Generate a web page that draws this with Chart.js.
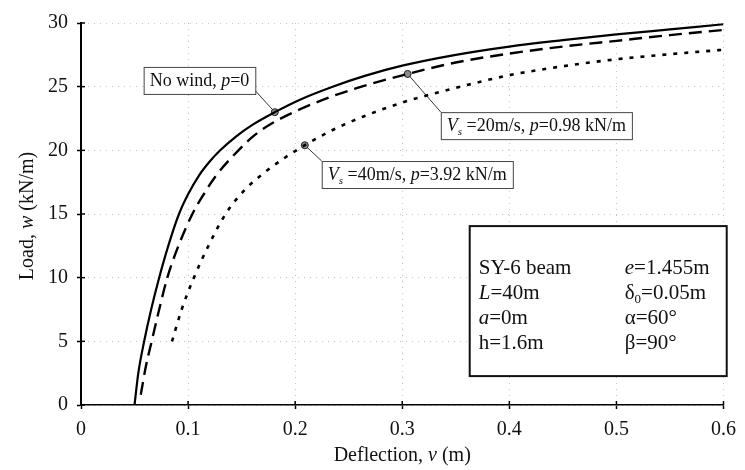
<!DOCTYPE html>
<html>
<head>
<meta charset="utf-8">
<script src="https://cdn.jsdelivr.net/npm/chart.js@4.4.1/dist/chart.umd.min.js"></script>
<style>
  html, body { margin: 0; padding: 0; background: #fff; }
  #wrap { width: 745px; height: 470px; }
</style>
</head>
<body>
<div id="wrap"><canvas id="chart" width="745" height="470"></canvas></div>
<script>
// Load-deflection curves, values (v in m, w in kN/m)
const noWindV = [0.050, 0.0535, 0.059, 0.0655, 0.073, 0.0815, 0.0915, 0.100, 0.110, 0.120, 0.130, 0.145, 0.160, 0.181, 0.205, 0.235, 0.265, 0.30, 0.35, 0.40, 0.45, 0.50, 0.55, 0.60];
const noWindW = [0, 2.5, 5, 7.5, 10, 12.5, 15, 16.55, 18.0, 19.1, 20.0, 21.1, 22.0, 23.0, 24.0, 25.0, 25.85, 26.65, 27.5, 28.15, 28.65, 29.1, 29.5, 29.9];

const vs20V = [0.0558, 0.0605, 0.066, 0.073, 0.0806, 0.091, 0.104, 0.115, 0.126, 0.147, 0.163, 0.180, 0.200, 0.230, 0.262, 0.305, 0.35, 0.40, 0.45, 0.50, 0.55, 0.60];
const vs20W = [0.8, 3, 5, 7.5, 10, 12.5, 15, 16.6, 18, 20, 21.25, 22.2, 23.05, 24.1, 25.0, 26.0, 26.9, 27.6, 28.15, 28.6, 29.05, 29.45];

const vs40V = [0.085, 0.094, 0.1054, 0.119, 0.135, 0.153, 0.172, 0.190, 0.209, 0.235, 0.265, 0.30, 0.35, 0.40, 0.45, 0.50, 0.55, 0.60];
const vs40W = [5, 7.5, 10, 12.5, 15, 16.9, 18.3, 19.4, 20.4, 21.6, 22.7, 23.75, 24.9, 25.9, 26.6, 27.15, 27.55, 27.9];

// Points marked on the curves, one per callout
const markerV = [0.181, 0.305, 0.209];
const markerW = [23.0, 26.0, 20.4];

const xTickLabels = ['0', '0.1', '0.2', '0.3', '0.4', '0.5', '0.6'];
const yTickLabels = ['0', '5', '10', '15', '20', '25', '30'];

// Rich text pieces: [text, italic, subscript]
const xTitle = [['Deflection, ', 0], ['v', 1], [' (m)', 0]];
const yTitle = [['Load, ', 0], ['w', 1], [' (kN/m)', 0]];
const noWindLabel = [['No wind, ', 0], ['p', 1], ['=0', 0]];
const vs20Label = [['V', 1], ['s', 1, 1], [' =20m/s, ', 0], ['p', 1], ['=0.98 kN/m', 0]];
const vs40Label = [['V', 1], ['s', 1, 1], [' =40m/s, ', 0], ['p', 1], ['=3.92 kN/m', 0]];
const infoLeft = [
    [['SY-6 beam', 0]],
    [['L', 1], ['=40m', 0]],
    [['a', 1], ['=0m', 0]],
    [['h=1.6m', 0]]
];
const infoRight = [
    [['e', 1], ['=1.455m', 0]],
    [['\u03b4', 0], ['0', 0, 1], ['=0.05m', 0]],
    [['\u03b1=60\u00b0', 0]],
    [['\u03b2=90\u00b0', 0]]
];

const SERIF = '"Liberation Serif", "Times New Roman", serif';

// callout boxes: top-left anchor in data units, leader start as fraction of box
const callouts = [
    { text: noWindLabel, at: [0.0585, 26.55], from: [1, 0.88], marker: 0 },
    { text: vs20Label, at: [0.336, 23.0], from: [0, 0], marker: 1 },
    { text: vs40Label, at: [0.2248, 19.16], from: [0, 0], marker: 2 }
];

function pts(xs, ys) {
    return xs.map((x, i) => ({ x: x, y: ys[i] }));
}

function layoutRich(ctx, segs, size) {
    let total = 0;
    const parts = segs.map(([t, it, sub]) => {
        const sz = sub ? Math.round(size * 0.62) : size;
        const font = (it ? 'italic ' : '') + sz + 'px ' + SERIF;
        ctx.font = font;
        const w = ctx.measureText(t).width;
        total += w;
        return { t, font, w, dy: sub ? size * 0.32 : 0 };
    });
    return { parts, width: total };
}

function drawRich(ctx, segs, x, y, size, align) {
    const r = layoutRich(ctx, segs, size);
    let cx = align === 'center' ? x - r.width / 2 : x;
    ctx.textBaseline = 'middle';
    ctx.textAlign = 'left';
    r.parts.forEach(p => {
        ctx.font = p.font;
        ctx.fillText(p.t, cx, y + p.dy);
        cx += p.w;
    });
}

function calloutBox(chart, c) {
    const { x, y } = chart.scales;
    const w = layoutRich(chart.ctx, c.text, 18).width + 12;
    const h = 27;
    const left = x.getPixelForValue(c.at[0]);
    const top = y.getPixelForValue(c.at[1]);
    return { left, top, w, h };
}

const extras = {
    id: 'extras',
    beforeDatasetsDraw(chart) {
        const ctx = chart.ctx;
        const { x, y } = chart.scales;
        ctx.save();
        ctx.strokeStyle = '#333';
        ctx.lineWidth = 1;
        callouts.forEach(c => {
            const b = calloutBox(chart, c);
            ctx.beginPath();
            ctx.moveTo(b.left + c.from[0] * b.w, b.top + c.from[1] * b.h);
            ctx.lineTo(x.getPixelForValue(markerV[c.marker]), y.getPixelForValue(markerW[c.marker]));
            ctx.stroke();
        });
        ctx.restore();
    },
    afterDatasetsDraw(chart) {
        const ctx = chart.ctx;
        const { x, y } = chart.scales;
        const area = chart.chartArea;
        ctx.save();

        // short ticks on the inner side of both axes
        ctx.strokeStyle = '#000';
        ctx.lineWidth = 1.5;
        x.ticks.forEach(t => {
            const px = x.getPixelForValue(t.value);
            ctx.beginPath();
            ctx.moveTo(px, area.bottom);
            ctx.lineTo(px, area.bottom - 4);
            ctx.stroke();
        });
        y.ticks.forEach(t => {
            const py = y.getPixelForValue(t.value);
            ctx.beginPath();
            ctx.moveTo(area.left, py);
            ctx.lineTo(area.left + 4, py);
            ctx.stroke();
        });

        // callout boxes
        callouts.forEach(c => {
            const b = calloutBox(chart, c);
            ctx.fillStyle = '#fff';
            ctx.fillRect(b.left, b.top, b.w, b.h);
            ctx.strokeStyle = '#444';
            ctx.lineWidth = 1;
            ctx.strokeRect(b.left + 0.5, b.top + 0.5, b.w, b.h);
            ctx.fillStyle = '#111';
            drawRich(ctx, c.text, b.left + b.w / 2, b.top + b.h / 2 + 1, 18, 'center');
        });

        // parameter box
        const bl = x.getPixelForValue(0.363);
        const bt = y.getPixelForValue(14.05);
        const bw = 257, bh = 150;
        ctx.fillStyle = '#fff';
        ctx.fillRect(bl, bt, bw, bh);
        ctx.strokeStyle = '#111';
        ctx.lineWidth = 2;
        ctx.strokeRect(bl, bt, bw, bh);
        ctx.fillStyle = '#111';
        infoLeft.forEach((row, i) => drawRich(ctx, row, bl + 9, bt + 42 + i * 25, 21, 'left'));
        infoRight.forEach((row, i) => drawRich(ctx, row, bl + 155, bt + 42 + i * 25, 21, 'left'));

        // axis titles
        drawRich(ctx, xTitle, (area.left + area.right) / 2, 456, 20, 'center');
        ctx.translate(28, (area.top + area.bottom) / 2 + 2);
        ctx.rotate(-Math.PI / 2);
        drawRich(ctx, yTitle, 0, 0, 20, 'center');
        ctx.restore();
    }
};

const tickFont = { family: SERIF, size: 20 };

const gridOpts = {
    color: '#c4c4c4',
    lineWidth: 1,
    tickColor: '#000',
    tickWidth: 1.5,
    tickLength: 4
};

new Chart(document.getElementById('chart'), {
    type: 'line',
    data: {
        datasets: [
            {
                data: pts(noWindV, noWindW),
                borderColor: '#000',
                borderWidth: 2.2,
                pointRadius: 0,
                cubicInterpolationMode: 'monotone'
            },
            {
                data: pts(vs20V, vs20W),
                borderColor: '#000',
                borderWidth: 2.4,
                borderDash: [13, 7],
                pointRadius: 0,
                cubicInterpolationMode: 'monotone'
            },
            {
                data: pts(vs40V, vs40W),
                borderColor: '#000',
                borderWidth: 2.6,
                borderDash: [4, 7],
                pointRadius: 0,
                cubicInterpolationMode: 'monotone'
            },
            {
                data: pts(markerV, markerW),
                showLine: false,
                pointRadius: 3.5,
                pointBackgroundColor: '#8a8a8a',
                pointBorderColor: '#222',
                pointBorderWidth: 1
            }
        ]
    },
    options: {
        responsive: false,
        animation: false,
        layout: { padding: { top: 23, right: 18, bottom: 0, left: 0 } },
        plugins: {
            legend: { display: false },
            tooltip: { enabled: false }
        },
        scales: {
            x: {
                type: 'linear',
                min: 0,
                max: 0.6,
                afterFit: s => { s.height = 65; },
                afterBuildTicks: s => { s.ticks = xTickLabels.map(v => ({ value: parseFloat(v) })); },
                ticks: {
                    color: '#111',
                    font: tickFont,
                    padding: 9,
                    maxRotation: 0,
                    callback: (v, i) => xTickLabels[i]
                },
                grid: gridOpts,
                border: { color: '#000', width: 1.5, dash: [1, 5] }
            },
            y: {
                min: 0,
                max: 30,
                afterFit: s => { s.width = 81; },
                afterBuildTicks: s => { s.ticks = yTickLabels.map(v => ({ value: parseFloat(v) })); },
                ticks: {
                    color: '#111',
                    font: tickFont,
                    padding: 9,
                    callback: (v, i) => yTickLabels[i]
                },
                grid: gridOpts,
                border: { color: '#000', width: 2, dash: [1, 5] }
            }
        }
    },
    plugins: [extras]
});
</script>
</body>
</html>
